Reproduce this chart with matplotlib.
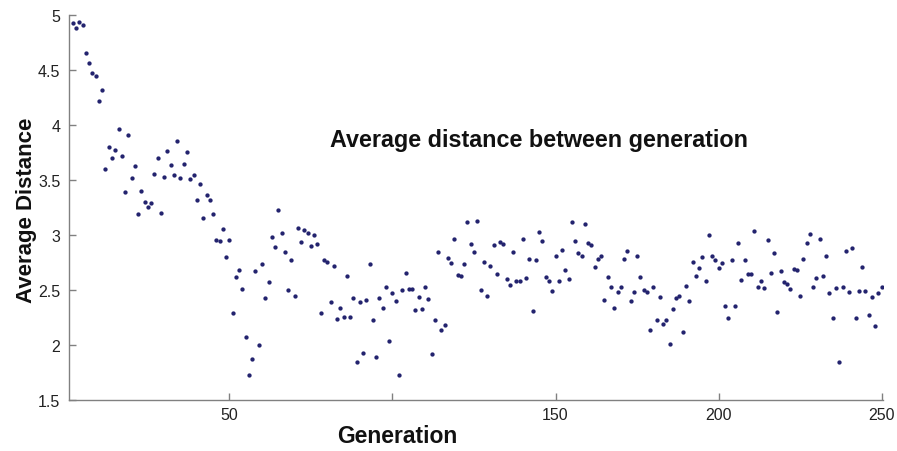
import numpy as np
import matplotlib
matplotlib.use("Agg")
import matplotlib.pyplot as plt

# Average distance per generation, generations 2..250
avg_distance = [
    4.93, 4.89, 4.94, 4.91, 4.66, 4.57, 4.48, 4.45, 4.22, 4.32,
    3.60, 3.80, 3.70, 3.78, 3.97, 3.72, 3.39, 3.91, 3.52, 3.63,
    3.19, 3.40, 3.30, 3.26, 3.29, 3.56, 3.70, 3.20, 3.53, 3.77,
    3.64, 3.55, 3.86, 3.52, 3.65, 3.76, 3.51, 3.55, 3.32, 3.47,
    3.16, 3.37, 3.32, 3.19, 2.96, 2.95, 3.06, 2.80, 2.96, 2.29,
    2.62, 2.68, 2.51, 2.07, 1.73, 1.87, 2.67, 2.00, 2.74, 2.43,
    2.57, 2.98, 2.89, 3.23, 3.02, 2.85, 2.50, 2.77, 2.45, 3.07,
    2.94, 3.05, 3.02, 2.90, 3.00, 2.92, 2.29, 2.77, 2.76, 2.39,
    2.72, 2.24, 2.34, 2.26, 2.63, 2.26, 2.43, 1.85, 2.39, 1.93,
    2.41, 2.74, 2.23, 1.89, 2.43, 2.34, 2.53, 2.04, 2.47, 2.40,
    1.73, 2.50, 2.66, 2.51, 2.51, 2.32, 2.44, 2.33, 2.53, 2.42,
    1.92, 2.23, 2.85, 2.14, 2.18, 2.79, 2.75, 2.97, 2.64, 2.63,
    2.74, 3.12, 2.92, 2.85, 3.13, 2.50, 2.76, 2.45, 2.72, 2.91,
    2.65, 2.94, 2.92, 2.60, 2.55, 2.85, 2.58, 2.58, 2.97, 2.61,
    2.78, 2.31, 2.77, 3.03, 2.95, 2.62, 2.58, 2.49, 2.81, 2.58,
    2.87, 2.68, 2.60, 3.12, 2.95, 2.84, 2.81, 3.10, 2.93, 2.91,
    2.71, 2.78, 2.81, 2.41, 2.62, 2.53, 2.34, 2.48, 2.53, 2.78,
    2.86, 2.40, 2.48, 2.81, 2.62, 2.50, 2.48, 2.14, 2.53, 2.23,
    2.44, 2.19, 2.23, 2.01, 2.33, 2.43, 2.45, 2.12, 2.54, 2.40,
    2.76, 2.63, 2.70, 2.80, 2.58, 3.00, 2.81, 2.77, 2.70, 2.75,
    2.36, 2.25, 2.77, 2.36, 2.93, 2.59, 2.77, 2.65, 2.65, 3.04,
    2.53, 2.58, 2.52, 2.96, 2.66, 2.84, 2.30, 2.67, 2.57, 2.56,
    2.51, 2.69, 2.68, 2.45, 2.78, 2.93, 3.01, 2.53, 2.61, 2.97,
    2.63, 2.81, 2.47, 2.25, 2.52, 1.85, 2.53, 2.86, 2.48, 2.88,
    2.25, 2.49, 2.71, 2.49, 2.27, 2.44, 2.17, 2.47, 2.53,
]
first_generation = 2
generations = np.arange(first_generation, first_generation + len(avg_distance))

x_ticks = [50, 100, 150, 200, 250]
x_tick_labels = ["50", "", "150", "200", "250"]
y_ticks = [1.5, 2, 2.5, 3, 3.5, 4, 4.5, 5]
y_tick_labels = ["1.5", "2", "2.5", "3", "3.5", "4", "4.5", "5"]

plt.rcParams["font.family"] = ["Liberation Sans", "DejaVu Sans"]

fig = plt.figure(figsize=(8.97, 4.52), dpi=100)
ax = fig.add_axes([0.0765, 0.1128, 0.9075, 0.8507])

ax.plot(generations, avg_distance, linestyle="none", marker="o",
        markersize=3.1, markeredgewidth=0, color="#23236e")

ax.set_xlim(0.7, 250.3)
ax.set_ylim(1.5, 5)
ax.set_xticks(x_ticks)
ax.set_xticklabels(x_tick_labels)
ax.set_yticks(y_ticks)
ax.set_yticklabels(y_tick_labels)

for s in ["top", "right"]:
    ax.spines[s].set_visible(False)
for s in ["left", "bottom"]:
    ax.spines[s].set_color("#808080")
    ax.spines[s].set_linewidth(1.0)
ax.tick_params(direction="in", length=5, width=1, color="#808080",
               labelsize=11.5, labelcolor="#222222")
ax.tick_params(axis="y", pad=6)
ax.tick_params(axis="x", pad=5)

fig.text(0.601, 0.690, "Average distance between generation", ha="center",
         va="center", fontsize=16.8, fontweight="bold", color="#111111")
fig.text(0.030, 0.535, "Average Distance", rotation=90, ha="center",
         va="center", fontsize=16, fontweight="bold", color="#111111")
fig.text(0.443, 0.035, "Generation", ha="center", va="center",
         fontsize=16.5, fontweight="bold", color="#111111")

fig.savefig("out.png", dpi=100)
